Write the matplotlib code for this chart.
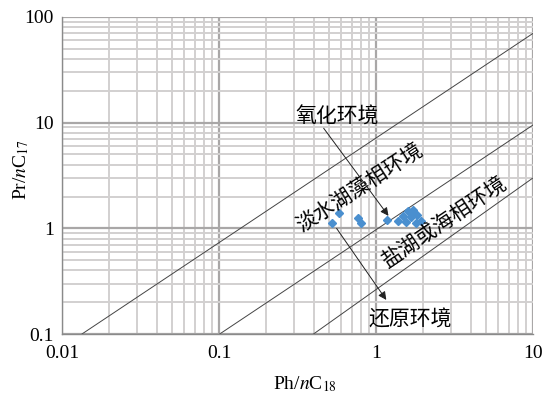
import matplotlib
matplotlib.use("Agg")
import matplotlib.pyplot as plt

# ============================================================
# DATA
# ============================================================

# sample points (Ph/nC18, Pr/nC17)
ph_nc18 = [0.58, 0.525, 0.77, 0.80, 1.17, 1.38, 1.49, 1.60, 1.72, 1.82, 1.93, 1.55, 1.80, 1.67]
pr_nc17 = [1.40, 1.12, 1.25, 1.12, 1.20, 1.17, 1.31, 1.46, 1.49, 1.34, 1.17, 1.15, 1.12, 1.28]

# boundary lines (end points)
line_upper_x = [0.0134, 10.0]
line_upper_y = [0.1, 70.0]
line_mid_x = [0.101, 10.0]
line_mid_y = [0.1, 9.5]
line_low_x = [0.40, 10.0]
line_low_y = [0.1, 3.0]

x_ticks = [0.01, 0.1, 1, 10]
x_tick_labels = ["0.01", "0.1", "1", "10"]
y_ticks = [0.1, 1, 10, 100]
y_tick_labels = ["0.1", "1", "10", "100"]

# ============================================================
# PLOT
# ============================================================

plt.rcParams["font.family"] = ["Liberation Serif", "Noto Sans CJK SC"]
plt.rcParams["mathtext.fontset"] = "stix"

fig = plt.figure(figsize=(5.43, 3.98), dpi=100)
ax = fig.add_axes([0.1142, 0.1608, 0.8674, 0.7965])

ax.set_xscale("log")
ax.set_yscale("log")
ax.set_xlim(0.01, 10)
ax.set_ylim(0.1, 100)

ax.grid(True, which="minor", color="#d2d0d0", linewidth=1.4)
ax.grid(True, which="major", color="#a9a7a7", linewidth=1.6)
ax.set_axisbelow(True)

ax.plot(line_upper_x, line_upper_y, color="#444444", linewidth=0.7)
ax.plot(line_mid_x, line_mid_y, color="#444444", linewidth=0.7)
ax.plot(line_low_x, line_low_y, color="#444444", linewidth=0.7)

ax.plot(ph_nc18, pr_nc17, linestyle="none", marker="D", markersize=4.2,
        color="#4a8fcf", markeredgecolor="#4a8fcf")

cjk = ["Noto Sans CJK SC"]
ax.text(0.565, 11.3, "氧化环境", family=cjk, fontsize=15, ha="center", va="center")
ax.text(0.79, 2.41, "淡水湖藻相环境", family=cjk, fontsize=15, ha="center", va="center",
        rotation=33, rotation_mode="anchor")
ax.text(2.75, 1.15, "盐湖或海相环境", family=cjk, fontsize=15, ha="center", va="center",
        rotation=34, rotation_mode="anchor")
ax.text(1.65, 0.136, "还原环境", family=cjk, fontsize=15, ha="center", va="center")

arrow = dict(arrowstyle="-|>", color="#222222", linewidth=0.7, mutation_scale=12)
ax.annotate("", xy=(1.23, 1.25), xytext=(0.453, 9.3), arrowprops=arrow)
ax.annotate("", xy=(1.19, 0.20), xytext=(0.548, 1.05), arrowprops=arrow)

ax.set_xticks(x_ticks)
ax.set_xticklabels(x_tick_labels)
ax.set_yticks(y_ticks)
ax.set_yticklabels(y_tick_labels)
ax.tick_params(which="both", length=0, labelsize=14)
ax.tick_params(axis="x", pad=8)
ax.tick_params(axis="y", pad=6)

for side in ["top", "right"]:
    ax.spines[side].set_visible(False)
for side in ["left", "bottom"]:
    ax.spines[side].set_color("#8a8a8a")
    ax.spines[side].set_linewidth(1.0)

ax.set_xlabel(r"Ph/$n$C$_{18}$", fontsize=14)
ax.set_ylabel(r"Pr/$n$C$_{17}$", fontsize=14)
ax.xaxis.set_label_coords(0.516, -0.128)
ax.yaxis.set_label_coords(-0.066, 0.52)

fig.savefig("out.png", dpi=100, facecolor="white")
